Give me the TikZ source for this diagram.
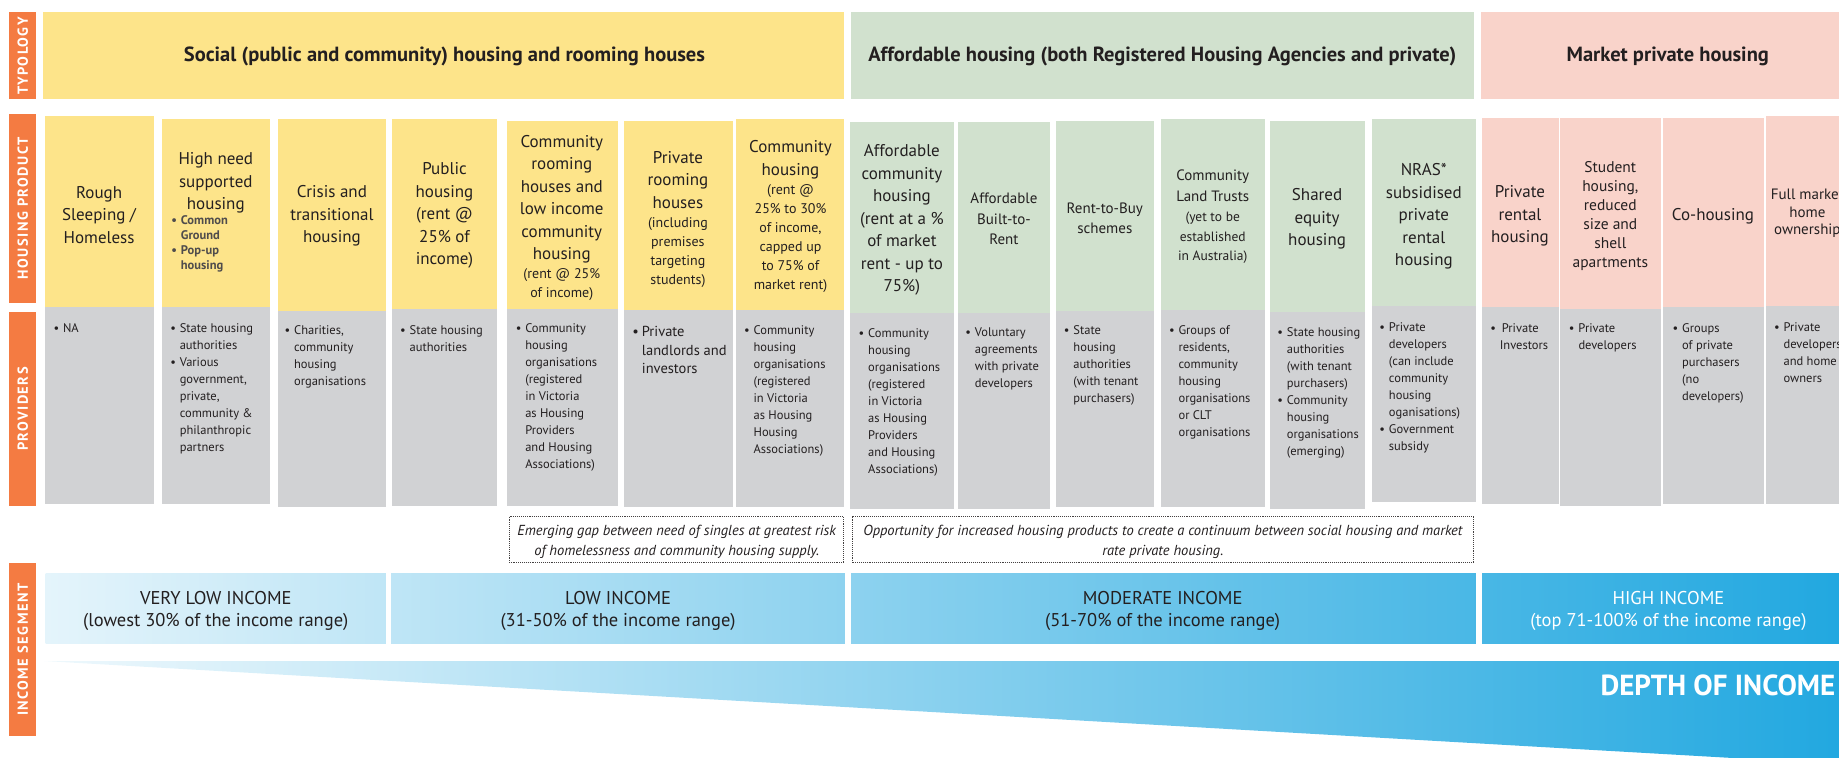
\documentclass[tikz,border=0pt]{standalone}
\usepackage{fontspec}
\setmainfont{PT Sans}
\newfontfamily\barfont[LetterSpace=10]{PT Sans}
\usetikzlibrary{positioning}
\definecolor{barorange}{HTML}{F47B42}
\definecolor{socyellow}{HTML}{FDE48A}
\definecolor{affgreen}{HTML}{D1E1CE}
\definecolor{mktpink}{HTML}{F9D3CA}
\definecolor{provgrey}{HTML}{D1D2D4}
\definecolor{inclight}{HTML}{E4F4FB}
\definecolor{incblue}{HTML}{22A8E0}
\definecolor{txt}{HTML}{231F20}
\newcommand{\itm}{\makebox[9.5pt][l]{\textbullet}}
\newcommand{\ind}{\hspace*{9.5pt}}

\begin{document}
\begin{tikzpicture}[x=1.1728pt,y=-1.1728pt,
  bartext/.style={rotate=90,text=white,inner sep=0,font=\barfont\bfseries\fontsize{14.5}{17}\selectfont},
  typo/.style={text=txt,inner sep=0,font=\bfseries\fontsize{20.5}{24}\selectfont},
  prod/.style={text=txt,align=center,inner sep=0,font=\fontsize{17}{22.5}\selectfont},
  prodmid/.style={text=txt,align=center,inner sep=0,font=\fontsize{15}{20.5}\selectfont},
  prodsmall/.style={text=txt,align=center,inner sep=0,font=\fontsize{14}{19}\selectfont},
  prov/.style={text=txt,align=left,anchor=north west,inner sep=0,font=\fontsize{12.5}{17}\selectfont},
  gapbox/.style={draw=txt!85,densely dotted,line width=0.9pt},
  gaptext/.style={text=txt,align=center,inner sep=0,font=\itshape\fontsize{14.5}{20}\selectfont},
  inc/.style={text=txt,align=center,inner sep=0,font=\fontsize{18.5}{21.4}\selectfont}]
\useasboundingbox (0,0) rectangle (1568,646);
\clip (0,0) rectangle (1568,646);

%row labels
\fill [barorange] (8,10.5) rectangle (31,84.7);
\node [bartext] (lbtypo) at (19.5,47.6) {TYPOLOGY};
\fill [barorange] (8,97.5) rectangle (31,258);
\node [bartext] (lbprod) at (19.5,177.7) {HOUSING PRODUCT};
\fill [barorange] (8,266.3) rectangle (31,431.2);
\node [bartext] (lbprov) at (19.5,348.7) {PROVIDERS};
\fill [barorange] (8,480.3) rectangle (31,627.6);
\node [bartext] (lbinc) at (19.5,554) {INCOME SEGMENT};

%typology
\fill [socyellow] (37,10.5) rectangle (720,84.7);
\fill [affgreen] (726,10.5) rectangle (1257,84.7);
\fill [mktpink] (1263,10.5) rectangle (1600,84.7);
\node [typo] (tsoc) at (379,48.5) {Social (public and community) housing and rooming houses};
\node [typo] (taff) at (991,48.5) {Affordable housing (both Registered Housing Agencies and private)};
\node [typo] (tmkt) at (1422,48.5) {Market private housing};

%product columns
\fill [socyellow] (38,99.2) rectangle (131,262);
\fill [provgrey]  (38,262) rectangle (131,429.8);
\fill [socyellow] (138,101.5) rectangle (230,262);
\fill [provgrey]  (138,262) rectangle (230,429.8);
\fill [socyellow] (237,101.5) rectangle (329,264.9);
\fill [provgrey]  (237,264.9) rectangle (329,432.6);
\fill [socyellow] (334,101.5) rectangle (424,263.5);
\fill [provgrey]  (334,263.5) rectangle (424,431.2);
\fill [socyellow] (432,103.2) rectangle (526.8,263.5);
\fill [provgrey]  (432,263.5) rectangle (526.8,431.2);
\fill [socyellow] (531.8,102.9) rectangle (625.4,264.3);
\fill [provgrey]  (531.8,264.3) rectangle (625.4,432);
\fill [socyellow] (627.8,101.7) rectangle (719.7,264.3);
\fill [provgrey]  (627.8,264.3) rectangle (719.7,432);
\fill [affgreen]  (724.8,104.3) rectangle (813.1,267.2);
\fill [provgrey]  (724.8,267.2) rectangle (813.1,434.3);
\fill [affgreen]  (816.4,104.3) rectangle (895.5,267.2);
\fill [provgrey]  (816.4,267.2) rectangle (895.5,434.3);
\fill [affgreen]  (900.6,103.2) rectangle (983.8,264.9);
\fill [provgrey]  (900.6,264.9) rectangle (983.8,432.6);
\fill [affgreen]  (989.9,101.7) rectangle (1078.8,264.3);
\fill [provgrey]  (989.9,264.3) rectangle (1078.8,432.6);
\fill [affgreen]  (1083,103.2) rectangle (1164,265.7);
\fill [provgrey]  (1083,265.7) rectangle (1164,434);
\fill [affgreen]  (1170,101.7) rectangle (1258.4,260.6);
\fill [provgrey]  (1170,260.6) rectangle (1258.4,428.3);
\fill [mktpink]   (1263.7,100.3) rectangle (1329,262);
\fill [provgrey]  (1263.7,262) rectangle (1329,429.8);
\fill [mktpink]   (1330,100.3) rectangle (1415.8,263.5);
\fill [provgrey]  (1330,263.5) rectangle (1415.8,431.2);
\fill [mktpink]   (1417.5,100.3) rectangle (1503.8,262);
\fill [provgrey]  (1417.5,262) rectangle (1503.8,429.8);
\fill [mktpink]   (1506,98.9) rectangle (1590,260.6);
\fill [provgrey]  (1506,260.6) rectangle (1590,429.8);

%product names
\node [prod] (p1) at (84.5,183) {Rough\\Sleeping /\\Homeless};
\node [prod] (p2) at (184,156) {High need\\supported\\housing};
\node [prov,font=\bfseries\fontsize{12.5}{14.8}\selectfont,text=txt!80] (p2b) at (146,184) {\itm Common\\\ind Ground\\\itm Pop-up\\\ind housing};
\node [prod] (p3) at (283,184) {Crisis and\\transitional\\housing};
\node [prod] (p4) at (379,184) {Public\\housing\\(rent @\\25\% of\\income)};
\node [prod] (p5) at (479,170) {Community\\rooming\\houses and\\low income\\community\\housing};
\node [prodsmall] (p5s) at (479,243) {(rent @ 25\%\\of income)};
\node [prod] (p6) at (578,153.5) {Private\\rooming\\houses};
\node [prodsmall] (p6s) at (578,215) {(including\\premises\\targeting\\students)};
\node [prod] (p7) at (674,136.4) {Community\\housing};
\node [prodsmall] (p7s) at (674,203.5) {(rent @\\25\% to 30\%\\of income,\\capped up\\to 75\% of\\market rent)};
\node [prod] (p8) at (769,187.6) {Affordable\\community\\housing\\(rent at a \%\\of market\\rent - up to\\75\%)};
\node [prodmid] (p9) at (856,186.7) {Affordable\\Built-to-\\Rent};
\node [prodmid] (p10) at (942,186) {Rent-to-Buy\\schemes};
\node [prodmid] (p11) at (1034,158.5) {Community\\Land Trusts};
\node [prodsmall,font=\fontsize{13.5}{19.5}\selectfont] (p11s) at (1034,203) {(yet to be\\established\\in Australia)};
\node [prod] (p12) at (1123,186.7) {Shared\\equity\\housing};
\node [prod] (p13) at (1214,184.7) {NRAS*\\subsidised\\private\\rental\\housing};
\node [prod] (p14) at (1296,184.2) {Private\\rental\\housing};
\node [prodmid,font=\fontsize{15.5}{19}\selectfont] (p15) at (1373,184) {Student\\housing,\\reduced\\size and\\shell\\apartments};
\node [prod] (p16) at (1460.5,184.7) {Co-housing};
\node [prodmid,font=\fontsize{15}{17.5}\selectfont] (p17) at (1541,182) {Full market\\home\\ownership};

%providers
\node [prov] (v1) at (45.5,276) {\itm NA};
\node [prov] (v2) at (145,276) {\itm State housing\\\ind authorities\\\itm Various\\\ind government,\\\ind private,\\\ind community \&\\\ind philanthropic\\\ind partners};
\node [prov] (v3) at (242.5,277.5) {\itm Charities,\\\ind community\\\ind housing\\\ind organisations};
\node [prov] (v4) at (341,277.5) {\itm State housing\\\ind authorities};
\node [prov] (v5) at (439.6,276) {\itm Community\\\ind housing\\\ind organisations\\\ind (registered\\\ind in Victoria\\\ind as Housing\\\ind Providers\\\ind and Housing\\\ind Associations)};
\node [prov,font=\fontsize{14.5}{18.7}\selectfont] (v6) at (539,278) {\itm Private\\\ind landlords and\\\ind investors};
\node [prov] (v7) at (634.3,277.5) {\itm Community\\\ind housing\\\ind organisations\\\ind (registered\\\ind in Victoria\\\ind as Housing\\\ind Housing\\\ind Associations)};
\node [prov] (v8) at (732,279.7) {\itm Community\\\ind housing\\\ind organisations\\\ind (registered\\\ind in Victoria\\\ind as Housing\\\ind Providers\\\ind and Housing\\\ind Associations)};
\node [prov] (v9) at (823,279.7) {\itm Voluntary\\\ind agreements\\\ind with private\\\ind developers};
\node [prov] (v10) at (907,277.5) {\itm State\\\ind housing\\\ind authorities\\\ind (with tenant\\\ind purchasers)};
\node [prov] (v11) at (996.6,277.5) {\itm Groups of\\\ind residents,\\\ind community\\\ind housing\\\ind organisations\\\ind or CLT\\\ind organisations};
\node [prov] (v12) at (1089,279) {\itm State housing\\\ind authorities\\\ind (with tenant\\\ind purchasers)\\\itm Community\\\ind housing\\\ind organisations\\\ind (emerging)};
\node [prov] (v13) at (1176,274.6) {\itm Private\\\ind developers\\\ind (can include\\\ind community\\\ind housing\\\ind oganisations)\\\itm Government\\\ind subsidy};
\node [prov] (v14) at (1270.5,275.4) {\itm\,Private\\\ind Investors};
\node [prov] (v15) at (1337.6,275.4) {\itm Private\\\ind developers};
\node [prov] (v16) at (1426,275.4) {\itm Groups\\\ind of private\\\ind purchasers\\\ind (no\\\ind developers)};
\node [prov] (v17) at (1512.5,274.6) {\itm Private\\\ind developers\\\ind and home\\\ind owners};

%gaps
\draw [gapbox] (434.2,440.5) rectangle (719.4,479.8);
\node [gaptext] (g1) at (577,462) {Emerging gap between need of singles at greatest risk\\of homelessness and community housing supply.};
\draw [gapbox] (726.4,440.5) rectangle (1256.6,479.8);
\node [gaptext] (g2) at (991.5,462) {Opportunity for increased housing products to create a continuum between social housing and market\\rate private housing.};

%income segments
\shade [left color=inclight,right color=incblue] (39,488.9) rectangle (1568,549);
\fill [white] (329,488) rectangle (333,550);
\fill [white] (720.4,488) rectangle (725.4,550);
\fill [white] (1258.6,488) rectangle (1263.7,550);
\node [inc] (i1) at (184,521) {VERY LOW INCOME\\(lowest 30\% of the income range)};
\node [inc] (i2) at (527,521) {LOW INCOME\\(31-50\% of the income range)};
\node [inc] (i3) at (991.3,521) {MODERATE INCOME\\(51-70\% of the income range)};
\node [inc,text=white] (i4) at (1422.6,521) {HIGH INCOME\\(top 71-100\% of the income range)};

%depth wedge
\shade [left color=inclight!60,right color=incblue] (37.5,563.6) -- (1568,563.6) -- (1568,651.5) -- cycle;
\node [anchor=east,text=white,inner sep=0,font=\bfseries\fontsize{29}{33}\selectfont] (depth) at (1565,584.6) {DEPTH OF INCOME};

\end{tikzpicture}
\end{document}
